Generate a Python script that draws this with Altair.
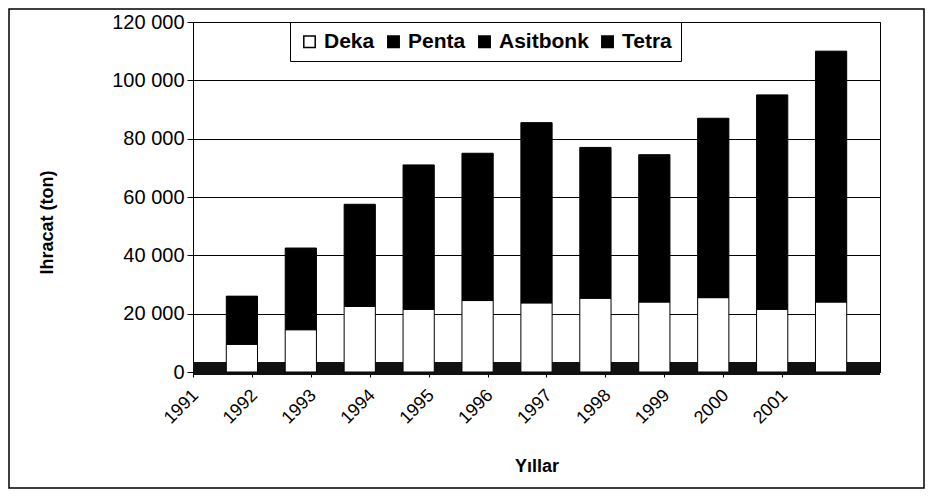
import altair as alt
import pandas as pd

years = ["1991", "1992", "1993", "1994", "1995", "1996", "1997", "1998", "1999", "2000", "2001"]
deka = [9500, 14500, 22500, 21500, 24500, 23700, 25300, 24000, 25500, 21500, 24000]
penta = [600, 800, 1000, 1200, 1500, 1400, 1300, 1200, 1500, 1600, 1800]
asitbonk = [15600, 26800, 33500, 47800, 48400, 59700, 49800, 48800, 59300, 71000, 83000]
tetra = [300, 400, 500, 500, 600, 700, 600, 500, 700, 900, 1200]
series = ["Deka", "Penta", "Asitbonk", "Tetra"]
y_ticks = [0, 20000, 40000, 60000, 80000, 100000, 120000]

rows = []
for i, yr in enumerate(years):
    for k, (name, vals) in enumerate(zip(series, [deka, penta, asitbonk, tetra])):
        rows.append({"Yıl": yr, "Tür": name, "Değer": vals[i], "sira": k})
df = pd.DataFrame(rows)

FONT = "Liberation Sans"
W, H = 687, 350

bars = alt.Chart(df).mark_bar(stroke="black", strokeWidth=1).encode(
    x=alt.X("Yıl:N", sort=years,
            scale=alt.Scale(paddingInner=0.47, paddingOuter=0.565),
            axis=alt.Axis(title="Yıllar", labelAngle=315, labelFont=FONT, labelFontSize=18,
                          labelColor="black", labelOffset=-4, labelPadding=9,
                          tickOffset=-49, tickSize=5, tickColor="black",
                          domainColor="black", grid=False,
                          titleFont=FONT, titleFontSize=18, titleFontWeight="bold",
                          titleColor="black", titleY=94, titleBaseline="middle")),
    y=alt.Y("Değer:Q", stack="zero",
            scale=alt.Scale(domain=[0, 120000], nice=False),
            axis=alt.Axis(title="Ihracat (ton)", values=y_ticks,
                          labelExpr="datum.value == 0 ? '0' : floor(datum.value/1000) + ' 000'",
                          labelFont=FONT, labelFontSize=20, labelColor="black",
                          tickSize=6, tickColor="black", domainColor="black",
                          gridColor="black", gridWidth=1, labelPadding=3,
                          titleFont=FONT, titleFontSize=18, titleFontWeight="bold",
                          titleColor="black", titleX=-146, titleY=200,
                          titleBaseline="middle")),
    color=alt.Color("Tür:N", sort=series,
                    scale=alt.Scale(domain=series, range=["white", "black", "black", "black"]),
                    legend=alt.Legend(title=None, orient="none", legendX=97, legendY=0,
                                      direction="horizontal", fillColor="white",
                                      strokeColor="black", padding=9,
                                      symbolType="square", symbolSize=130,
                                      symbolStrokeColor="black", symbolStrokeWidth=1.5,
                                      labelFont=FONT, labelFontSize=21, labelFontWeight="bold",
                                      labelColor="black", labelOffset=4, columnPadding=8)),
    order=alt.Order("sira:Q"),
)

one = pd.DataFrame({"k": [0]})
floor_band = alt.Chart(one).mark_rect(color="#111111").encode(
    x=alt.value(0), x2=alt.value(W), y=alt.value(H - 10), y2=alt.value(H + 3)
)
frame = alt.Chart(one).mark_rect(fill="transparent", stroke="black", strokeWidth=1.5, clip=False).encode(
    x=alt.value(-184), x2=alt.value(731), y=alt.value(-13), y2=alt.value(466)
)

chart = alt.layer(floor_band, bars, frame).properties(
    width=W, height=H,
    autosize=alt.AutoSizeParams(type="none"),
    padding={"left": 185, "top": 14, "right": 45, "bottom": 117},
    background="white",
).configure_view(stroke="black", strokeWidth=1)

chart.save("out.html", embed_options={"renderer": "svg", "actions": False})
